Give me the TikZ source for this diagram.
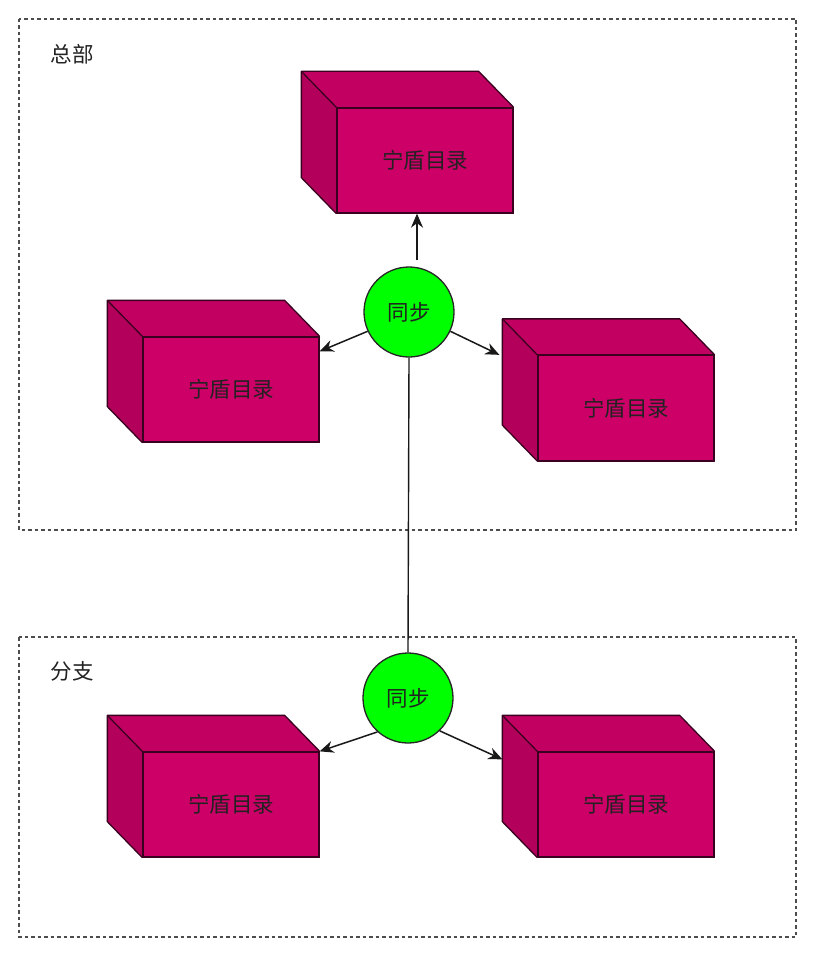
\documentclass[tikz,border=0pt]{standalone}
\usepackage{fontspec}
\setmainfont{Noto Sans CJK SC}
\usetikzlibrary{arrows.meta,calc}
\definecolor{frontc}{HTML}{CC0066}
\definecolor{topc}{HTML}{C20061}
\definecolor{sidec}{HTML}{B3005A}
\definecolor{edgec}{HTML}{3A0020}
\definecolor{syncc}{HTML}{00FF00}
\definecolor{framec}{HTML}{4D4D4D}
\definecolor{txtc}{HTML}{222222}
\tikzset{
  front/.style={draw=edgec, fill=frontc, line width=1.3pt, minimum width=176pt, minimum height=105pt, inner sep=0pt, text=txtc, font=\fontsize{21.5}{24}\selectfont},
  face/.style={draw=edgec, line width=1.3pt, line join=round},
  sync/.style={circle, draw=black!85, fill=syncc, line width=1.3pt, minimum size=90pt, inner sep=0pt, text=txtc, font=\fontsize{21.5}{24}\selectfont},
  frame/.style={draw=framec, line width=1.4pt, dash pattern=on 3.5pt off 3pt},
  grouplabel/.style={anchor=center, text=txtc, font=\fontsize{21.5}{24}\selectfont},
  arr/.style={draw=black!90, line width=1.5pt, -{Stealth[length=14pt,width=12pt]}},
  link/.style={draw=black!90, line width=1.4pt}
}
\newcommand\mycube[3]{%
  \node[front] (#1) at (#2,#3) {宁盾目录};
  \fill[topc] (#1.north west) -- ++(-35,-36) -- ($(#1.north east)+(-35,-36)$) -- (#1.north east) -- cycle;
  \fill[sidec] (#1.north west) -- ++(-35,-36) -- ($(#1.south west)+(-35,-36)$) -- (#1.south west) -- cycle;
  \draw[face] (#1.north east) -- ++(-35,-36) -- ($(#1.north west)+(-35,-36)$) -- ($(#1.south west)+(-35,-36)$) -- (#1.south west);
  \draw[face] ($(#1.north west)+(-35,-36)$) -- (#1.north west);
  \draw[face] (#1.north west) rectangle (#1.south east);
}
\begin{document}
\begin{tikzpicture}[x=1pt,y=-1pt]
\fill[white] (0,0) rectangle (814,955);
\useasboundingbox (0,0) rectangle (814,955);
% group frames
\draw[frame] (19,19) rectangle (796,530);
\draw[frame] (19,637) rectangle (796,937);
\node[grouplabel] (hq) at (72,54) {总部};
\node[grouplabel] (br) at (72,671) {分支};
% cubes
\mycube{top}{425}{160.5}
\mycube{left}{231}{389.5}
\mycube{right}{626}{408}
\mycube{bl}{231}{804.5}
\mycube{brc}{626}{804.5}
% sync nodes
\node[sync] (c1) at (409,312) {同步};
\node[sync] (c2) at (408,698) {同步};
% connectors
\draw[link] (c1.south) -- (c2.north);
\draw[arr] ([xshift=8pt,yshift=6pt]c1.north) -- ([xshift=-8pt]top.south);
\draw[arr] (c1.205) -- ([yshift=-15pt]left.north east);
\draw[arr] (c1.335) -- ($(right.north west)+(-38,0)$);
\draw[arr] (c2.228) -- (bl.north east);
\draw[arr] (c2.314) -- ($(brc.north west)+(-35,8)$);
\end{tikzpicture}
\end{document}
